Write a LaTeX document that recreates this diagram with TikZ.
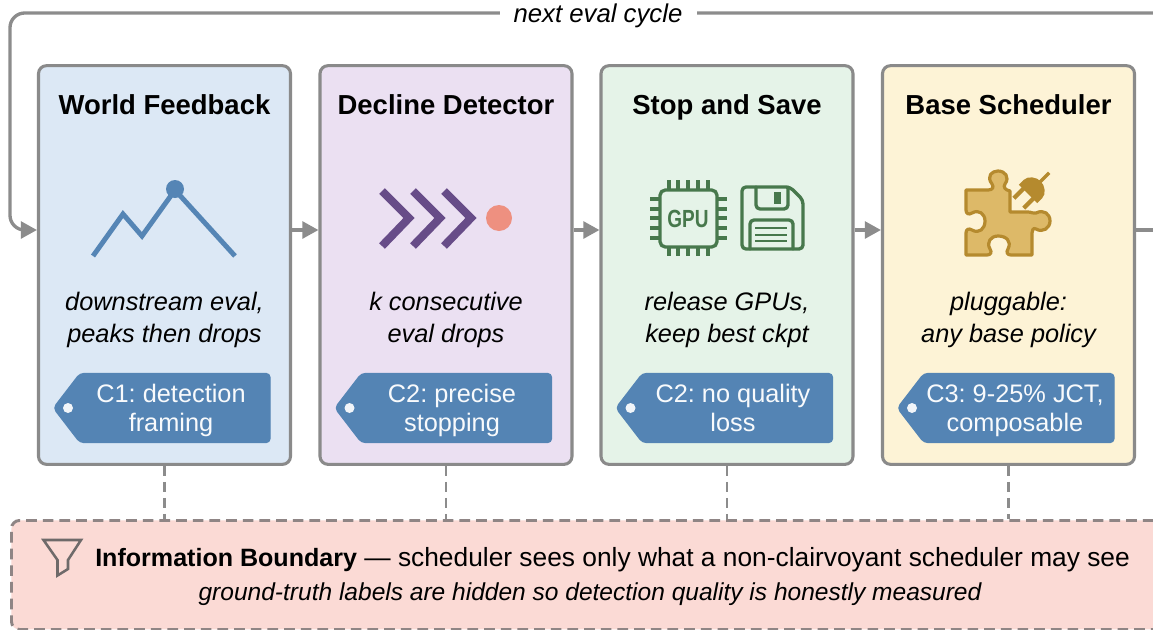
\documentclass[tikz,border=0pt]{standalone}
\usepackage{fontspec}
\setmainfont{Liberation Sans}
\usetikzlibrary{arrows.meta,calc}
\frenchspacing
\definecolor{flowgrey}{HTML}{8C8C8C}
\definecolor{edgegrey}{HTML}{8A8A8A}
\definecolor{bluefill}{HTML}{DCE8F5}
\definecolor{purplefill}{HTML}{EBE0F2}
\definecolor{greenfill}{HTML}{E5F3E8}
\definecolor{yellowfill}{HTML}{FDF3D6}
\definecolor{tagblue}{HTML}{5484B4}
\definecolor{iconblue}{HTML}{5585B5}
\definecolor{iconpurple}{HTML}{674C88}
\definecolor{iconcoral}{HTML}{EE9080}
\definecolor{icongreen}{HTML}{47784C}
\definecolor{puzzlefill}{HTML}{DDB968}
\definecolor{puzzleline}{HTML}{B58A2E}
\definecolor{boundfill}{HTML}{FBDAD5}
\definecolor{bounddash}{HTML}{8F8585}
\definecolor{funnelgrey}{HTML}{6E6A6A}
\tikzset{
  x=0.75pt,y=-0.75pt,
  stagebox/.style={draw=edgegrey,line width=2.3pt,rounded corners=6pt,minimum width=189pt,minimum height=299pt,inner sep=0pt},
  titletext/.style={font=\fontsize{20.6}{24}\selectfont\bfseries,inner sep=0pt,text=black,anchor=base},
  desctext/.style={font=\fontsize{19}{24}\selectfont\itshape,align=center,inner sep=0pt,text=black,anchor=base},
  tagtext/.style={font=\fontsize{19}{21.75}\selectfont,align=center,inner sep=0pt,text=white!96!tagblue,anchor=base},
  flow/.style={draw=flowgrey,line width=2.5pt,-{Triangle[length=12pt,width=12.5pt]}},
  guard/.style={draw=flowgrey,line width=2pt,dash pattern=on 7.5pt off 4.5pt},
  tagshape/.style={fill=tagblue,draw=tagblue,line width=1pt,line join=round,rounded corners=3pt},
  greenline/.style={draw=icongreen,line width=2.5pt,line cap=round,line join=round},
  pin/.style={draw=icongreen,line width=2.8pt},
}
\newcommand{\stagetag}[1]{%
  \begin{scope}[shift={(#1,408)}]
    \path[tagshape] (-111,0) -- (-84.5,-34.5) -- (105.5,-34.5) -- (105.5,34.5) -- (-84.5,34.5) -- cycle;
    \fill[white!92!tagblue] (-96.5,0) circle[radius=5];
  \end{scope}}
\begin{document}
\begin{tikzpicture}
\useasboundingbox (0,0) rectangle (1153,629);
\fill[white] (0,0) rectangle (1153,629);
\begin{scope}
\clip (0,0) rectangle (1153,629);
% boundary
\node[fill=boundfill,rounded corners=6pt,minimum width=1200*0.75pt,minimum height=109*0.75pt,inner sep=0pt,
      draw=bounddash,line width=2.2pt,dash pattern=on 8pt off 4.5pt,anchor=north west] (boundary) at (10,519) {};
% boxes
\node[stagebox,fill=bluefill]   (world) at (164.5,265) {};
\node[stagebox,fill=purplefill] (decline) at (446,265) {};
\node[stagebox,fill=greenfill]  (stop) at (727,265) {};
\node[stagebox,fill=yellowfill] (base) at (1008.5,265) {};
% cross-links
\draw[flow] (world.east |- 0,230) -- (decline.west |- 0,230);
\draw[flow] (decline.east |- 0,230) -- (stop.west |- 0,230);
\draw[flow] (stop.east |- 0,230) -- (base.west |- 0,230);
\coordinate (outR) at (1160,230);
\draw[draw=flowgrey,line width=2.5pt] (base.east |- 0,230) -- (outR);
\coordinate (loopR) at (1160,13);
\coordinate (loopT) at (10,13);
\coordinate (loopB) at (10,230);
\draw[flow,rounded corners=11pt] (loopR) -- (loopT) -- (loopB) -- (world.west |- 0,230);
\path[fill=white] (500,0) rectangle (697,28);
\node[font=\fontsize{19.3}{22}\selectfont\itshape,inner sep=0pt,anchor=base] (cycle) at (598,22) {next eval cycle};
% dashed ties
\draw[guard] (world.south) -- (world.south |- boundary.north);
\draw[guard] (decline.south) -- (decline.south |- boundary.north);
\draw[guard] (stop.south) -- (stop.south |- boundary.north);
\draw[guard] (base.south) -- (base.south |- boundary.north);
% titles
\node[titletext] (t1) at (164.5,114) {World Feedback};
\node[titletext] (t2) at (446,114) {Decline Detector};
\node[titletext] (t3) at (727,114) {Stop and Save};
\node[titletext] (t4) at (1008.5,114) {Base Scheduler};
% descriptions
\node[desctext] (d1) at (164.5,342) {downstream eval,\\peaks then drops};
\node[desctext] (d2) at (446,342) {k consecutive\\eval drops};
\node[desctext] (d3) at (727,342) {release GPUs,\\keep best ckpt};
\node[desctext] (d4) at (1008.5,342) {pluggable:\\any base policy};
% tags
\stagetag{164.5}\node[tagtext] (g1) at (171,431) {C1: detection\\framing};
\stagetag{446}\node[tagtext] (g2) at (452,431) {C2: precise\\stopping};
\stagetag{727}\node[tagtext] (g3) at (733,431) {C2: no quality\\loss};
\stagetag{1008.5}\node[tagtext] (g4) at (1015,431) {C3: 9-25\% JCT,\\composable};
% boundary text
\node[font=\fontsize{19.75}{22}\selectfont,inner sep=0pt,anchor=base west,text=black] (bl1) at (95,566)
  {{\fontsize{18.8}{22}\selectfont\bfseries Information Boundary} — scheduler sees only what a non-clairvoyant scheduler may see};
\node[font=\fontsize{18.4}{22}\selectfont\itshape,inner sep=0pt,anchor=base,text=black] (bl2) at (590,600)
  {ground-truth labels are hidden so detection quality is honestly measured};
\draw[draw=funnelgrey,line width=1.9pt,line join=miter] (43.5,540) -- (81,540) -- (68,560) -- (68,569) -- (57.5,575.5) -- (57.5,560) -- cycle;
% icon 1: peak line
\draw[draw=iconblue,line width=3.7pt,line join=miter] (93,256) -- (123,214) -- (142,236) -- (175,190) -- (235,256);
\fill[iconblue] (175,189) circle[radius=9];
% icon 2: chevrons
\foreach \dx in {0,31,62}{
  \draw[draw=iconpurple,line width=6pt,miter limit=10] ($(382,191)+(\dx,0)$) -- ($(409,218)+(\dx,0)$) -- ($(382,246)+(\dx,0)$);
}
\fill[iconcoral] (499,218) circle[radius=13];
% icon 3: chip
\draw[greenline,rounded corners=4pt] (660,190) rectangle (717,247);
\foreach \p in {669,678,688,698,708}{
  \draw[pin] (\p,180) -- (\p,190);
  \draw[pin] (\p,247) -- (\p,256);
}
\foreach \p in {199,209,218,228,238}{
  \draw[pin] (650,\p) -- (660,\p);
  \draw[pin] (717,\p) -- (727,\p);
}
\node[font=\fontsize{15.5}{16}\selectfont\bfseries,text=icongreen,inner sep=0pt] (gpu) at (688,218.5) {\scalebox{0.92}[1.2]{GPU}};
% icon 3: floppy
\draw[greenline,rounded corners=3pt] (742,187) -- (790,187) -- (803,200) -- (803,249) -- (742,249) -- cycle;
\draw[greenline,rounded corners=3pt] (756,187) -- (756,209) -- (788,209) -- (788,187);
\fill[icongreen] (774,192) rectangle (781,204);
\draw[greenline,rounded corners=3pt] (750,249) -- (750,220) -- (793,220) -- (793,249);
\draw[draw=icongreen,line width=1.5pt] (755,228) -- (787,228) (755,235) -- (787,235) (755,241) -- (787,241);
% icon 4: puzzle piece
\draw[draw=puzzleline,fill=puzzlefill,line width=2.4pt,line join=round]
  (966,190) -- (988,190) .. controls (993,190) and (994,187) .. (992,184)
  .. controls (986,176) and (992,171) .. (998,171)
  .. controls (1005,171) and (1010,177) .. (1005,184)
  .. controls (1003,187) and (1005,190) .. (1010,191)
  -- (1010,212) -- (1028,212) .. controls (1032,212) and (1033,214) .. (1036,213)
  .. controls (1044,209) and (1050,214) .. (1050,221)
  .. controls (1050,228) and (1043,233) .. (1036,229)
  .. controls (1033,227) and (1032,231) .. (1032,233)
  -- (1032,255) -- (1011,255) .. controls (1007,255) and (1006,252) .. (1008,249)
  .. controls (1012,241) and (1006,236) .. (998,236)
  .. controls (991,236) and (986,242) .. (990,249)
  .. controls (992,252) and (991,255) .. (987,255)
  -- (966,255) -- (966,233) .. controls (966,229) and (969,228) .. (972,230)
  .. controls (979,234) and (985,229) .. (985,221)
  .. controls (985,214) and (979,209) .. (972,213)
  .. controls (969,215) and (966,214) .. (966,210) -- cycle;
% icon 4: plug
\begin{scope}[shift={(1028,194)},rotate=45]
  \fill[puzzleline] (0,-13) -- (7,-13) .. controls (13,-13) and (18,-6) .. (18,0)
     .. controls (18,6) and (13,13) .. (7,13) -- (0,13) -- cycle;
  \draw[draw=puzzleline,line width=2.6pt] (15,0) -- (30,0);
  \draw[draw=puzzleline,line width=3.2pt] (2,-7) -- (-13,-7) (2,7) -- (-13,7);
\end{scope}
\end{scope}
\end{tikzpicture}
\end{document}
